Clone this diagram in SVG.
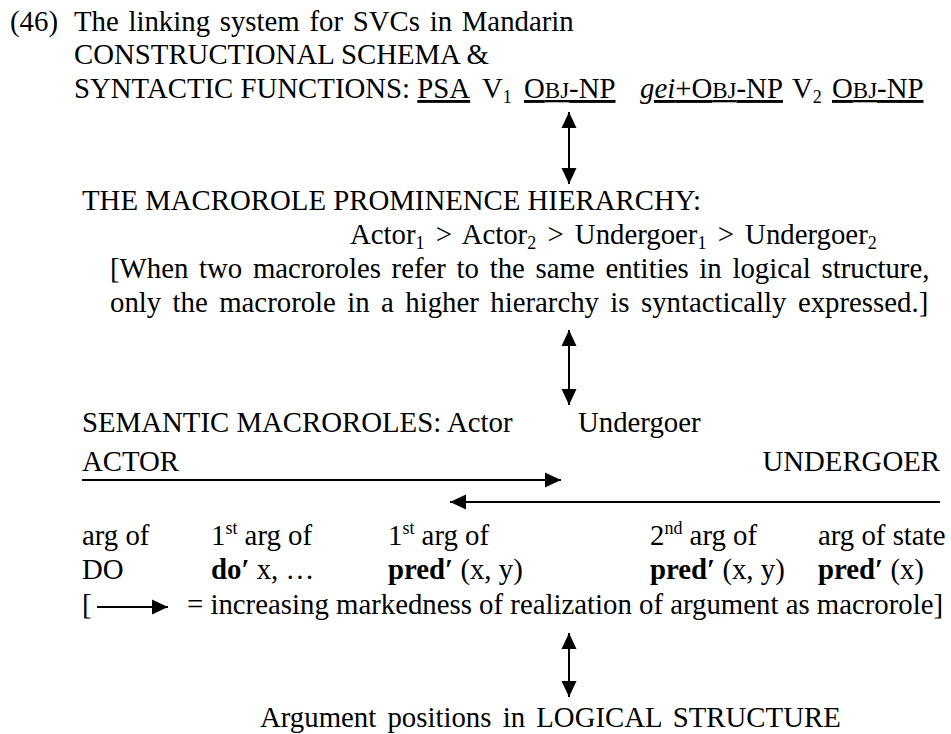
<svg xmlns="http://www.w3.org/2000/svg" width="951" height="734" viewBox="0 0 951 734">
<defs>
<marker id="ah" markerUnits="userSpaceOnUse" markerWidth="16" markerHeight="16" viewBox="0 0 16 16" refX="16" refY="8" orient="auto-start-reverse">
<path d="M0,0.5 L16,8 L0,15.5 Z" fill="#000"/>
</marker>
</defs>
<style>
text{font-family:"Liberation Serif","Times New Roman",serif;font-size:28.8px;fill:#000}
.sc{font-size:23px}
.sup{font-size:18px}
.sub{font-size:18px}
.u{text-decoration:underline}
.b{font-weight:bold}
.i{font-style:italic}
.ln{stroke:#000;stroke-width:2;fill:none}
</style>
<rect width="951" height="734" fill="#fff"/>
<g id="title">
<text x="10" y="31">(46)</text>
<text x="74" y="31" word-spacing="2.5">The linking system for SVCs in Mandarin</text>
</g>
<g id="schema">
<text x="74" y="64">CONSTRUCTIONAL SCHEMA &amp;</text>
<text x="74" y="98">SYNTACTIC FUNCTIONS: <tspan class="u">PSA</tspan></text>
<text x="482" y="98">V<tspan class="sub" dy="5">1</tspan></text>
<text x="524" y="98"><tspan class="u">O<tspan class="sc">BJ</tspan>-NP</tspan></text>
<text x="640" y="98"><tspan class="u"><tspan class="i">gei</tspan>+O<tspan class="sc">BJ</tspan>-NP</tspan></text>
<text x="792" y="98">V<tspan class="sub" dy="5">2</tspan></text>
<text x="832" y="98"><tspan class="u">O<tspan class="sc">BJ</tspan>-NP</tspan></text>
</g>
<g id="hierarchy">
<text x="82" y="210">THE MACROROLE PROMINENCE HIERARCHY:</text>
<text x="350" y="244" word-spacing="4">Actor<tspan class="sub" dy="5">1</tspan><tspan dy="-5"> &gt; Actor</tspan><tspan class="sub" dy="5">2</tspan><tspan dy="-5"> &gt; Undergoer</tspan><tspan class="sub" dy="5">1</tspan><tspan dy="-5"> &gt; Undergoer</tspan><tspan class="sub" dy="5">2</tspan></text>
<text x="110" y="278" word-spacing="3.5">[When two macroroles refer to the same entities in logical structure,</text>
<text x="110" y="312" word-spacing="4.2">only the macrorole in a higher hierarchy is syntactically expressed.]</text>
</g>
<g id="macroroles">
<text x="82" y="432">SEMANTIC MACROROLES:</text>
<text x="447" y="432">Actor</text>
<text x="578" y="432">Undergoer</text>
<text x="82" y="471">ACTOR</text>
<text x="940" y="471" text-anchor="end">UNDERGOER</text>
</g>
<g id="args">
<text x="82" y="545">arg of</text>
<text x="211" y="545">1<tspan class="sup" dy="-11">st</tspan><tspan dy="11"> arg of</tspan></text>
<text x="388" y="545">1<tspan class="sup" dy="-11">st</tspan><tspan dy="11"> arg of</tspan></text>
<text x="650" y="545">2<tspan class="sup" dy="-11">nd</tspan><tspan dy="11"> arg of</tspan></text>
<text x="818" y="545">arg of state</text>
<text x="82" y="579">DO</text>
<text x="211" y="579"><tspan class="b">do′</tspan> x, …</text>
<text x="388" y="579"><tspan class="b">pred′</tspan> (x, y)</text>
<text x="650" y="579"><tspan class="b">pred′</tspan> (x, y)</text>
<text x="818" y="579"><tspan class="b">pred′</tspan> (x)</text>
</g>
<g id="legend">
<text x="82" y="614">[</text>
<text x="187" y="614">= increasing markedness of realization of argument as macrorole]</text>
</g>
<g id="logical">
<text x="260" y="727" word-spacing="4">Argument positions in LOGICAL STRUCTURE</text>
</g>
<g id="connectors">
<line class="ln" x1="569" y1="112" x2="569" y2="184" marker-start="url(#ah)" marker-end="url(#ah)"/>
<line class="ln" x1="569" y1="330" x2="569" y2="405" marker-start="url(#ah)" marker-end="url(#ah)"/>
<line class="ln" x1="82" y1="480" x2="561" y2="480" marker-end="url(#ah)"/>
<line class="ln" x1="940" y1="502" x2="450" y2="502" marker-end="url(#ah)"/>
<line class="ln" x1="97" y1="607" x2="168" y2="607" marker-end="url(#ah)"/>
<line class="ln" x1="569" y1="633" x2="569" y2="697" marker-start="url(#ah)" marker-end="url(#ah)"/>
</g>
</svg>
